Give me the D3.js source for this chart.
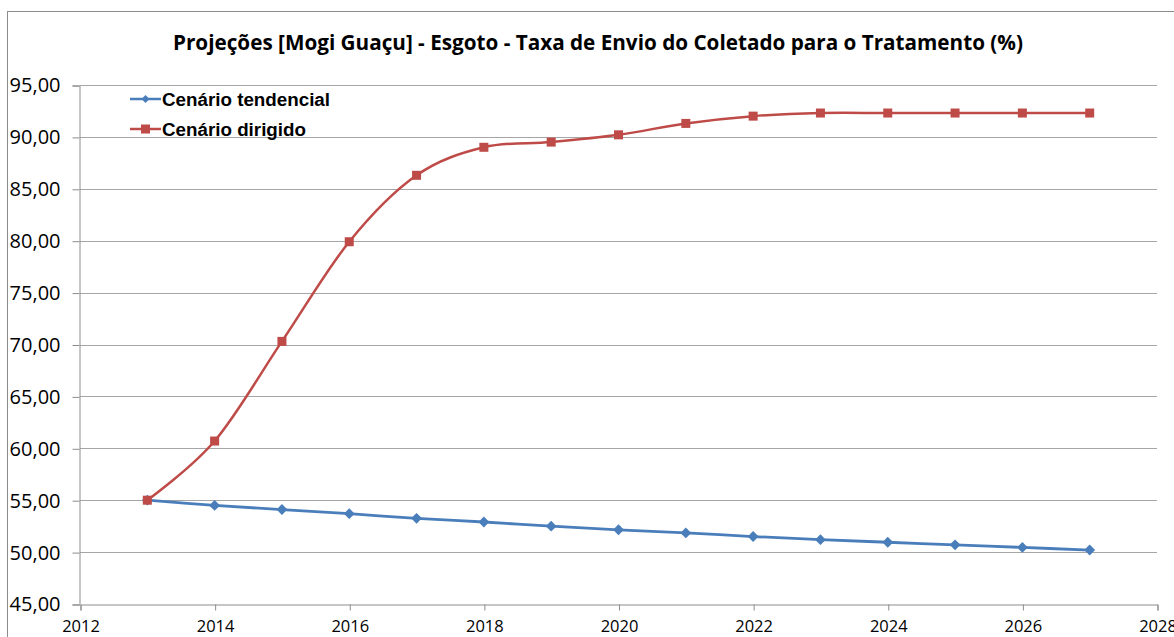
<!DOCTYPE html>
<html>
<head>
<meta charset="utf-8">
<script src="https://d3js.org/d3.v7.min.js"></script>
<style>
  body { margin: 0; background: #fff; }
  svg { display: block; }
</style>
</head>
<body>
<script>
const years = d3.range(2013, 2028);
const tendencial = [55.0, 54.5, 54.1, 53.7, 53.25, 52.9, 52.5, 52.15, 51.85, 51.5, 51.2, 50.95, 50.7, 50.45, 50.2];
const dirigido = [55.0, 60.7, 70.3, 79.9, 86.3, 89.0, 89.5, 90.2, 91.3, 92.0, 92.3, 92.3, 92.3, 92.3, 92.3];
const yTicks = [45, 50, 55, 60, 65, 70, 75, 80, 85, 90, 95];
const xTicks = [2012, 2014, 2016, 2018, 2020, 2022, 2024, 2026, 2028];
const seriesNames = ["Cenário tendencial", "Cenário dirigido"];
const title = "Projeções [Mogi Guaçu] - Esgoto - Taxa de Envio do Coletado para o Tratamento (%)";

const width = 1174, height = 637;
const blue = "#4a7ebb", red = "#be4b48";
const tickFont = "Open Sans, Lato, sans-serif";

const svg = d3.select("body").append("svg")
    .attr("width", width)
    .attr("height", height);

// chart border (continues past the picture edges)
svg.append("rect")
    .attr("x", 7.5).attr("y", 11.5)
    .attr("width", 1200).attr("height", 700)
    .attr("fill", "#fff")
    .attr("stroke", "#8c8c8c");

const x = d3.scaleLinear().domain([2012, 2028]).range([80, 1157]);
const y = d3.scaleLinear().domain([45, 95]).range([604, 85]);

// gridlines
svg.append("g")
    .selectAll("line")
    .data(yTicks.slice(1))
    .join("line")
    .attr("x1", x(2012)).attr("x2", x(2028))
    .attr("y1", d => Math.round(y(d)) + 0.5)
    .attr("y2", d => Math.round(y(d)) + 0.5)
    .attr("stroke", "#a6a6a6");

// y axis
const yAxis = svg.append("g")
    .attr("transform", `translate(${x(2012) - 0.5},0.5)`)
    .call(d3.axisLeft(y).tickValues(yTicks).tickSize(7).tickPadding(12)
        .tickFormat(d => d3.format(".2f")(d).replace(".", ",")));

// x axis
const xAxis = svg.append("g")
    .attr("transform", `translate(0.5,${Math.round(y(45)) + 0.5})`)
    .call(d3.axisBottom(x).tickValues(xTicks).tickSize(6).tickPadding(10)
        .tickFormat(d3.format("d")));

[yAxis, xAxis].forEach(g => {
    g.select(".domain").attr("stroke", "#8c8c8c");
    g.selectAll(".tick line").attr("stroke", "#8c8c8c");
    g.selectAll("text")
        .attr("fill", "#000")
        .style("font-family", tickFont);
});
yAxis.selectAll("text").style("font-size", "20px");
xAxis.selectAll("text").style("font-size", "16.5px");

// title
svg.append("text")
    .attr("x", 598).attr("y", 50)
    .attr("text-anchor", "middle")
    .style("font-family", tickFont)
    .style("font-weight", "bold")
    .style("font-size", "20.7px")
    .text(title);

const line = d3.line()
    .x((d, i) => x(years[i]))
    .y(d => y(d))
    .curve(d3.curveCardinal.tension(0));

const diamond = d3.symbol().type(d3.symbolDiamond2).size(75);

// tendencial series
svg.append("path")
    .datum(tendencial)
    .attr("d", line)
    .attr("fill", "none")
    .attr("stroke", blue)
    .attr("stroke-width", 2.8);

svg.append("g")
    .selectAll("path")
    .data(tendencial)
    .join("path")
    .attr("transform", (d, i) => `translate(${x(years[i])},${y(d)})`)
    .attr("d", diamond)
    .attr("fill", blue);

// dirigido series
svg.append("path")
    .datum(dirigido)
    .attr("d", line)
    .attr("fill", "none")
    .attr("stroke", red)
    .attr("stroke-width", 2.5);

svg.append("g")
    .selectAll("rect")
    .data(dirigido)
    .join("rect")
    .attr("x", (d, i) => x(years[i]) - 4.5)
    .attr("y", d => y(d) - 4.5)
    .attr("width", 9).attr("height", 9)
    .attr("fill", red);

// legend
const legend = svg.append("g");
const legendColors = [blue, red];
seriesNames.forEach((name, i) => {
    const ly = 99 + i * 30;
    legend.append("line")
        .attr("x1", 130).attr("x2", 161)
        .attr("y1", ly).attr("y2", ly)
        .attr("stroke", legendColors[i])
        .attr("stroke-width", 2.5);
    if (i === 0) {
        legend.append("path")
            .attr("transform", `translate(145.5,${ly})`)
            .attr("d", d3.symbol().type(d3.symbolDiamond2).size(40))
            .attr("fill", blue);
    } else {
        legend.append("rect")
            .attr("x", 141).attr("y", ly - 4.5)
            .attr("width", 9).attr("height", 9)
            .attr("fill", red);
    }
    legend.append("text")
        .attr("x", 162).attr("y", ly + 6.5)
        .style("font-family", "Liberation Sans, Arial, sans-serif")
        .style("font-weight", "bold")
        .style("font-size", "18.8px")
        .text(name);
});
</script>
</body>
</html>
